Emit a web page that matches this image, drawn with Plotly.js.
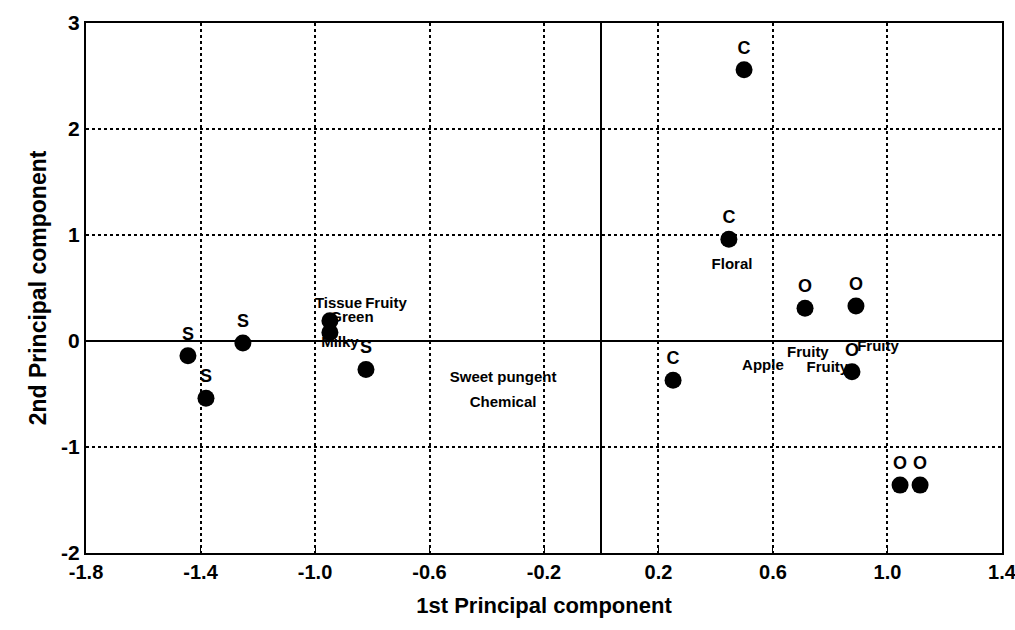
<!DOCTYPE html>
<html>
<head>
<meta charset="utf-8">
<script src="https://cdn.plot.ly/plotly-3.0.1.min.js"></script>
<style>html,body{margin:0;padding:0;background:#fff;}#chart{width:1015px;height:630px;}</style>
</head>
<body>
<div id="chart"></div>
<script>
// Samples (scores) – dots with group labels
const sampleX = [-1.444, -1.381, -1.252, -0.948, -0.948, -0.822, 0.499, 0.446, 0.251, 0.712, 0.890, 0.876, 1.044, 1.114];
const sampleY = [-0.14, -0.54, -0.02, 0.19, 0.08, -0.27, 2.56, 0.96, -0.37, 0.31, 0.33, -0.29, -1.36, -1.36];
const sampleLabel = ["S", "S", "S", "", "", "S", "C", "C", "C", "O", "O", "O", "O", "O"];

// Attributes (loadings) – text only
const attrX = [-0.918, -0.752, -0.871, -0.913, -0.343, -0.343, 0.457, 0.565, 0.722, 0.790, 0.967];
const attrY = [0.35, 0.35, 0.21, -0.02, -0.35, -0.585, 0.71, -0.235, -0.12, -0.255, -0.055];
const attrLabel = ["Tissue", "Fruity", "Green", "Milky", "Sweet pungent", "Chemical", "Floral", "Apple", "Fruity", "Fruity", "Fruity"];

// Axis ticks
const xTickVals = [-1.8, -1.4, -1.0, -0.6, -0.2, 0.2, 0.6, 1.0, 1.4];
const xTickText = ["-1.8", "-1.4", "-1.0", "-0.6", "-0.2", "0.2", "0.6", "1.0", "1.4"];
const yTickVals = [-2, -1, 0, 1, 2, 3];
const yTickText = ["-2", "-1", "0", "1", "2", "3"];

const FONT = '"Liberation Sans", Arial, sans-serif';

const traces = [
  {
    x: sampleX, y: sampleY, text: sampleLabel,
    type: 'scatter', mode: 'markers+text',
    marker: {color: '#000', size: 17},
    textposition: 'top center',
    textfont: {family: FONT, size: 18, color: '#000', weight: 'bold'},
    hoverinfo: 'none', showlegend: false, cliponaxis: false
  },
  {
    x: attrX, y: attrY, text: attrLabel,
    type: 'scatter', mode: 'text',
    textposition: 'middle center',
    textfont: {family: FONT, size: 15, color: '#000', weight: 'bold'},
    hoverinfo: 'none', showlegend: false, cliponaxis: false
  }
];

const layout = {
  width: 1015, height: 630,
  paper_bgcolor: '#fff', plot_bgcolor: '#fff',
  margin: {l: 86, r: 13, t: 23, b: 77},
  font: {family: FONT, color: '#000'},
  xaxis: {
    range: [-1.8002, 1.4002], autorange: false,
    tickmode: 'array', tickvals: xTickVals, ticktext: xTickText,
    tickfont: {family: FONT, size: 20, weight: 'bold', color: '#000'},
    ticklabeloverflow: 'allow',
    ticks: 'inside', ticklen: 5, tickcolor: '#000', tickwidth: 1,
    showgrid: true, gridcolor: '#000', gridwidth: 2, griddash: 'dot',
    zeroline: true, zerolinecolor: '#000', zerolinewidth: 2,
    showline: true, mirror: true, linecolor: '#000', linewidth: 2,
    automargin: false,
    title: {text: '1st Principal component', font: {family: FONT, size: 22, weight: 'bold', color: '#000'}, standoff: 16}
  },
  yaxis: {
    range: [-2.0005, 3.0005], autorange: false,
    tickmode: 'array', tickvals: yTickVals, ticktext: yTickText,
    tickfont: {family: FONT, size: 21, weight: 'bold', color: '#000'},
    ticks: '',
    showgrid: true, gridcolor: '#000', gridwidth: 2, griddash: 'dot',
    zeroline: true, zerolinecolor: '#000', zerolinewidth: 2,
    showline: true, mirror: true, linecolor: '#000', linewidth: 2,
    automargin: false,
    title: {text: '2nd Principal component', font: {family: FONT, size: 23, weight: 'bold', color: '#000'}, standoff: 8}
  }
};

Plotly.newPlot('chart', traces, layout, {staticPlot: true, displayModeBar: false});
</script>
</body>
</html>
